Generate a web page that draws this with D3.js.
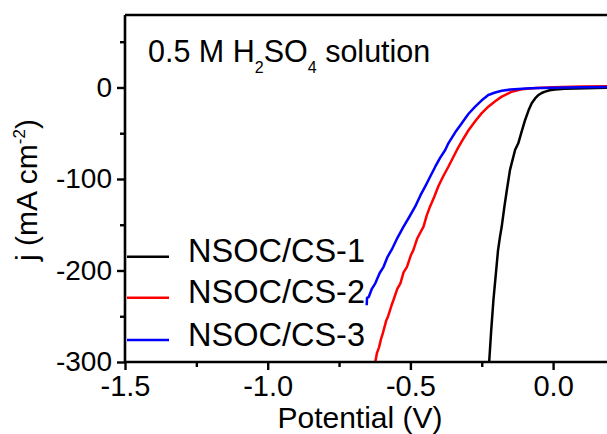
<!DOCTYPE html>
<html>
<head>
<meta charset="utf-8">
<script src="https://cdn.jsdelivr.net/npm/d3@7/dist/d3.min.js"></script>
<style>
  html, body { margin: 0; padding: 0; background: #fff; }
  svg { display: block; font-family: "Liberation Sans", Arial, sans-serif; }
</style>
</head>
<body>
<svg id="chart" width="607" height="434"></svg>
<script>
// Polarization curves (LSV) in 0.5 M H2SO4
const seriesNames = ["NSOC/CS-1", "NSOC/CS-2", "NSOC/CS-3"];
const seriesColors = ["#000000", "#ff0000", "#0000ff"];

const potential1 = [-0.224,-0.217,-0.209,-0.201,-0.193,-0.186,-0.180,-0.171,-0.162,-0.151,-0.133,-0.122,-0.110,-0.098,-0.086,-0.075,-0.063,-0.051,-0.040,-0.028,-0.012,0.007,0.04,0.08,0.15,0.22,0.3];
const current1   = [-300,-266,-232,-205,-178,-163,-152,-131,-112,-90,-68,-61,-48,-35.5,-25,-17.3,-12,-8.2,-6,-4.6,-3,-2.2,-1.5,-1,-0.6,-0.3,0];

const potential2 = [-0.623,-0.617,-0.610,-0.603,-0.597,-0.585,-0.578,-0.566,-0.559,-0.546,-0.535,-0.524,-0.512,-0.498,-0.490,-0.476,-0.466,-0.454,-0.443,-0.431,-0.417,-0.402,-0.385,-0.367,-0.337,-0.320,-0.297,-0.273,-0.250,-0.227,-0.203,-0.180,-0.145,-0.110,-0.06,0.0,0.1,0.2,0.3];
const current2   = [-300,-290,-284,-275,-269,-255,-250,-238,-232,-220,-214,-202,-196,-183,-178,-165,-159,-152,-140,-130,-120,-108,-97,-86.6,-68.3,-59,-47,-37,-28,-21,-15,-10,-4.6,-2,-0.5,0.3,1,1.5,2];

const potential3 = [-0.653,-0.652,-0.646,-0.635,-0.623,-0.608,-0.594,-0.580,-0.565,-0.545,-0.524,-0.503,-0.483,-0.465,-0.448,-0.430,-0.413,-0.396,-0.378,-0.367,-0.343,-0.320,-0.297,-0.273,-0.250,-0.227,-0.203,-0.180,-0.150,-0.122,-0.08,0.0,0.1,0.2,0.3];
const current3   = [-238,-230,-229,-220,-214,-203,-196,-185,-177,-164,-152,-141,-130,-118,-108,-97,-86.6,-77,-68.3,-61,-49,-39,-29,-21,-14,-8.2,-5.5,-3.5,-2.3,-1.6,-0.9,-0.3,0.2,0.5,0.8];

const xTicks = [-1.5, -1.0, -0.5, 0.0];
const xMinorTicks = [-1.25, -0.75, -0.25];
const yTicks = [0, -100, -200, -300];
const yMinorTicks = [50, -50, -150, -250];

const potentials = [potential1, potential2, potential3];
const currents = [current1, current2, current3];

const svg = d3.select("#chart");
const plotLeft = 125, plotTop = 15, plotBottom = 362;

const x = d3.scaleLinear().domain([-1.5, 0.3]).range([plotLeft, plotLeft + 1.8 * 285.4]);
const y = d3.scaleLinear().domain([-300, 79.2]).range([plotBottom, plotTop]);

svg.append("defs").append("clipPath").attr("id", "plot")
  .append("rect").attr("x", plotLeft).attr("y", plotTop)
  .attr("width", x.range()[1] - plotLeft).attr("height", plotBottom - plotTop);

// curves
const line = d3.line().x(d => x(d[0])).y(d => y(d[1]));
const curves = svg.append("g").attr("clip-path", "url(#plot)");
seriesNames.forEach((name, i) => {
  const pts = potentials[i].map((v, k) => [v, currents[i][k]]);
  curves.append("path").datum(pts)
    .attr("d", line)
    .attr("fill", "none")
    .attr("stroke", seriesColors[i])
    .attr("stroke-width", 2.5)
    .attr("stroke-linejoin", "round");
});

// axes
const axisStyle = g => {
  g.select(".domain").remove();
  g.selectAll("line").attr("stroke", "#000").attr("stroke-width", 2.4);
  g.selectAll("text").attr("fill", "#000");
};

const xAxis = svg.append("g").attr("transform", `translate(0,${plotBottom})`)
  .call(d3.axisBottom(x).tickValues(xTicks).tickSize(8).tickPadding(5).tickFormat(d3.format(".1f")))
  .call(axisStyle);
xAxis.selectAll("text").attr("font-size", 29).text(d => d3.format(".1f")(d).replace("−", "-"));

svg.append("g").attr("transform", `translate(0,${plotBottom})`)
  .call(d3.axisBottom(x).tickValues(xMinorTicks).tickSize(5).tickFormat(""))
  .call(axisStyle);

const yAxis = svg.append("g").attr("transform", `translate(${plotLeft},0)`)
  .call(d3.axisLeft(y).tickValues(yTicks).tickSize(8).tickPadding(5))
  .call(axisStyle);
yAxis.selectAll("text").attr("font-size", 28).text(d => String(d).replace("−", "-"));

svg.append("g").attr("transform", `translate(${plotLeft},0)`)
  .call(d3.axisLeft(y).tickValues(yMinorTicks).tickSize(5).tickFormat(""))
  .call(axisStyle);

// frame lines (left, top, bottom)
svg.append("line").attr("x1", plotLeft).attr("x2", plotLeft).attr("y1", plotTop).attr("y2", plotBottom + 1)
  .attr("stroke", "#000").attr("stroke-width", 2.6);
svg.append("line").attr("x1", plotLeft).attr("x2", 607).attr("y1", plotTop).attr("y2", plotTop)
  .attr("stroke", "#000").attr("stroke-width", 2.6);
svg.append("line").attr("x1", plotLeft - 1).attr("x2", 607).attr("y1", plotBottom).attr("y2", plotBottom)
  .attr("stroke", "#000").attr("stroke-width", 2.6);

// axis titles
svg.append("text").attr("x", 360).attr("y", 428).attr("text-anchor", "middle")
  .attr("font-size", 30).text("Potential (V)");

const yTitle = svg.append("text").attr("transform", "translate(37,190) rotate(-90)")
  .attr("text-anchor", "middle").attr("font-size", 30);
yTitle.append("tspan").text("j (mA cm");
yTitle.append("tspan").attr("font-size", 17).attr("dy", -12).text("-2");
yTitle.append("tspan").attr("dy", 12).text(")");

// annotation
const note = svg.append("text").attr("x", 148).attr("y", 62).attr("font-size", 30.5);
note.append("tspan").text("0.5 M H");
note.append("tspan").attr("font-size", 16).attr("dy", 11).text("2");
note.append("tspan").attr("dy", -11).text("SO");
note.append("tspan").attr("font-size", 16).attr("dy", 11).text("4");
note.append("tspan").attr("dy", -11).text(" solution");

// legend
const legendY = [256.7, 297.7, 340];
seriesNames.forEach((name, i) => {
  svg.append("line").attr("x1", 127).attr("x2", 169)
    .attr("y1", legendY[i]).attr("y2", legendY[i])
    .attr("stroke", seriesColors[i]).attr("stroke-width", 2.5);
  svg.append("text").attr("x", 188).attr("y", legendY[i] + 5.5)
    .attr("font-size", 32.5).text(name);
});
</script>
</body>
</html>
